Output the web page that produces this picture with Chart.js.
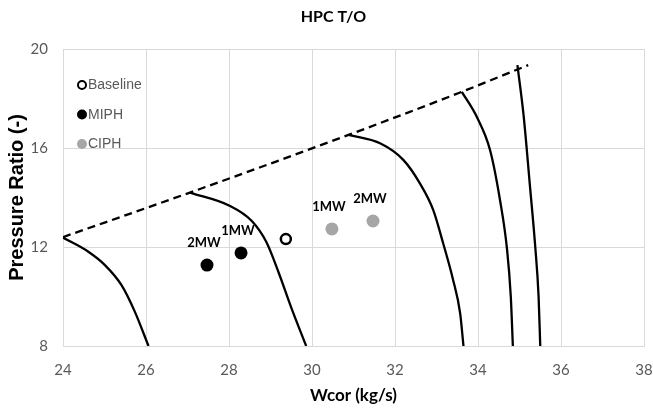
<!DOCTYPE html>
<html>
<head>
<meta charset="utf-8">
<title>HPC T/O</title>
<script src="https://cdn.jsdelivr.net/npm/chart.js@4.4.1/dist/chart.umd.min.js"></script>
<style>
    html, body { margin: 0; padding: 0; background: #fff; }
    #wrap { width: 653px; height: 411px; }
</style>
</head>
<body>
<div id="wrap"><canvas id="chart" width="653" height="411"></canvas></div>
<script>
// Axis ranges / ticks
const xRange = { min: 24, max: 38, step: 2 };
const yRange = { min: 8, max: 20, step: 4 };

const chartTitle = 'HPC T/O';

// Surge line (dashed)
const surgeX = [24, 27.06, 30.88, 33.61, 35.21];
const surgeY = [12.4, 14.2, 16.53, 18.27, 19.35];

// Speed lines (solid)
const speed1X = [24, 24.61, 25.01, 25.41, 25.73, 26.06];
const speed1Y = [12.38, 11.81, 11.27, 10.46, 9.39, 8];
const speed2X = [27.06, 28.0, 28.55, 28.9, 29.2, 29.5, 29.86];
const speed2Y = [14.2, 13.68, 13.05, 12.2, 10.95, 9.55, 8];
const speed3X = [30.88, 31.64, 32.2, 32.6, 32.92, 33.16, 33.4, 33.57, 33.65];
const speed3Y = [16.53, 16.19, 15.52, 14.57, 13.5, 12.15, 10.67, 9.32, 8];
const speed4X = [33.61, 33.97, 34.29, 34.53, 34.7, 34.79, 34.84];
const speed4Y = [18.27, 17.26, 15.92, 13.9, 11.9, 10.0, 8];
const speed5X = [34.95, 35.1, 35.25, 35.38, 35.46, 35.5];
const speed5Y = [19.35, 17.3, 14.5, 12.0, 10.0, 8];

// Operating points
const baselineX = [29.37];
const baselineY = [12.32];
const miphX = [27.47, 28.29];
const miphY = [11.27, 11.76];
const miphLabels = ['2MW', '1MW'];
const ciphX = [30.48, 31.47];
const ciphY = [12.73, 13.05];
const ciphLabels = ['1MW', '2MW'];

const legendNames = ['Baseline', 'MIPH', 'CIPH'];

function toPoints(xs, ys) {
    return xs.map((x, i) => ({ x: x, y: ys[i] }));
}

function curve(xs, ys, dashed) {
    return {
        label: dashed ? 'surge' : 'speed',
        data: toPoints(xs, ys),
        showLine: true,
        borderColor: '#000',
        borderWidth: 2.3,
        borderDash: dashed ? [8, 5] : [],
        pointRadius: 0,
        pointHoverRadius: 0,
        cubicInterpolationMode: 'monotone',
        fill: false
    };
}

// Chart title, sits a bit right of the canvas centre like the original
const topTitle = {
    id: 'topTitle',
    afterDraw(chart) {
        const ctx = chart.ctx;
        ctx.save();
        ctx.font = 'bold 16px Lato';
        ctx.fillStyle = '#000';
        ctx.textAlign = 'center';
        ctx.textBaseline = 'middle';
        ctx.fillText(chartTitle, chart.width / 2 + 7, 17);
        ctx.restore();
    }
};

// Labels above the operating points ("1MW", "2MW")
const pointLabels = {
    id: 'pointLabels',
    afterDatasetsDraw(chart) {
        const ctx = chart.ctx;
        ctx.save();
        ctx.font = 'bold 13px Lato';
        ctx.fillStyle = '#000';
        ctx.textAlign = 'center';
        ctx.textBaseline = 'middle';
        chart.data.datasets.forEach((ds, i) => {
            if (!ds.pointLabels) return;
            const meta = chart.getDatasetMeta(i);
            meta.data.forEach((pt, j) => {
                ctx.fillText(ds.pointLabels[j], pt.x - 3, pt.y - 22);
            });
        });
        ctx.restore();
    }
};

// Legend drawn inside the plot, top-left
const insideLegend = {
    id: 'insideLegend',
    afterDraw(chart) {
        const { ctx, chartArea } = chart;
        const x = chartArea.left + 19;
        const y0 = chartArea.top + 36;
        ctx.save();
        ctx.font = '14px "Liberation Sans", Arial, sans-serif';
        ctx.textBaseline = 'middle';
        ctx.textAlign = 'left';
        legendNames.forEach((name, i) => {
            const ds = chart.data.datasets.find(d => d.label === name);
            const y = y0 + i * 29.5;
            ctx.beginPath();
            ctx.arc(x, y, name === 'Baseline' ? 4 : 5, 0, Math.PI * 2);
            ctx.fillStyle = ds.backgroundColor;
            ctx.fill();
            if (name === 'Baseline') {
                ctx.lineWidth = 2;
                ctx.strokeStyle = ds.borderColor;
                ctx.stroke();
            }
            ctx.fillStyle = '#595959';
            ctx.fillText(name, x + 6, y + 0.5);
        });
        ctx.restore();
    }
};

new Chart(document.getElementById('chart'), {
    type: 'scatter',
    data: {
        datasets: [
            {
                label: 'Baseline',
                data: toPoints(baselineX, baselineY),
                backgroundColor: '#fff',
                borderColor: '#000',
                borderWidth: 2.5,
                pointRadius: 5,
                pointHoverRadius: 5
            },
            {
                label: 'MIPH',
                data: toPoints(miphX, miphY),
                pointLabels: miphLabels,
                backgroundColor: '#000',
                borderColor: '#000',
                borderWidth: 0,
                pointRadius: 6.5,
                pointHoverRadius: 6.5
            },
            {
                label: 'CIPH',
                data: toPoints(ciphX, ciphY),
                pointLabels: ciphLabels,
                backgroundColor: '#a6a6a6',
                borderColor: '#a6a6a6',
                borderWidth: 0,
                pointRadius: 6.5,
                pointHoverRadius: 6.5
            },
            curve(surgeX, surgeY, true),
            curve(speed1X, speed1Y, false),
            curve(speed2X, speed2Y, false),
            curve(speed3X, speed3Y, false),
            curve(speed4X, speed4Y, false),
            curve(speed5X, speed5Y, false)
        ]
    },
    options: {
        responsive: false,
        animation: false,
        layout: { padding: { left: 0, right: 9, top: 49, bottom: 0 } },
        plugins: {
            legend: { display: false },
            tooltip: { enabled: false },
            title: { display: false }
        },
        scales: {
            x: {
                type: 'linear',
                min: xRange.min,
                max: xRange.max,
                ticks: {
                    stepSize: xRange.step,
                    color: '#595959',
                    font: { family: 'Lato', size: 15 },
                    padding: 15
                },
                grid: { color: '#d9d9d9', drawTicks: false },
                border: { color: '#d9d9d9' },
                title: {
                    display: true,
                    text: 'Wcor (kg/s)',
                    color: '#000',
                    font: { family: 'Lato', size: 17, weight: 'bold' },
                    padding: { top: 0, bottom: 5 }
                },
                afterFit(scale) {
                    scale.height = 65;
                    scale.paddingLeft = 0;
                    scale.paddingRight = 0;
                }
            },
            y: {
                type: 'linear',
                min: yRange.min,
                max: yRange.max,
                ticks: {
                    stepSize: yRange.step,
                    color: '#595959',
                    font: { family: 'Lato', size: 15 },
                    padding: 15
                },
                grid: { color: '#d9d9d9', drawTicks: false },
                border: { color: '#d9d9d9' },
                title: {
                    display: true,
                    text: 'Pressure Ratio (-)',
                    color: '#000',
                    font: { family: '"Liberation Sans", Arial, sans-serif', size: 20, weight: 'bold' },
                    padding: { top: 5, bottom: 0 }
                },
                afterFit(scale) {
                    scale.width = 63;
                    scale.paddingTop = 0;
                    scale.paddingBottom = 0;
                }
            }
        }
    },
    plugins: [topTitle, pointLabels, insideLegend]
});
</script>
</body>
</html>
